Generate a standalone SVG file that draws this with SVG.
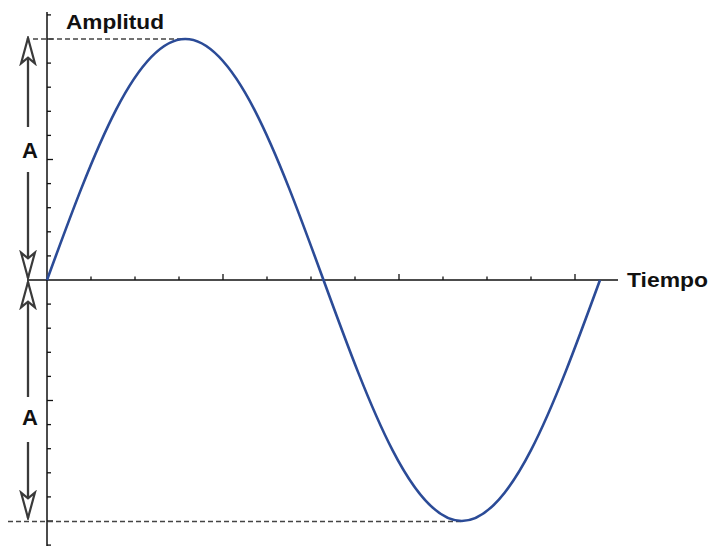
<svg xmlns="http://www.w3.org/2000/svg" width="713" height="546" viewBox="0 0 713 546">
<style>
.axis{stroke:#111;stroke-width:1.5;fill:none}
.tick{stroke:#111;stroke-width:1.3}
.dash{stroke:#444;stroke-width:1.5;stroke-dasharray:5 3;fill:none}
.arr{stroke:#3a3a3a;stroke-width:2.3;fill:none;marker-end:url(#head)}
.lbl{font-family:"Liberation Sans",Arial,sans-serif;font-weight:bold;font-size:21px;fill:#111}
.wave{stroke:#2b4b97;stroke-width:2.6;fill:none}
</style>
<defs>
<marker id="head" markerUnits="userSpaceOnUse" markerWidth="30" markerHeight="20" viewBox="-24 -8 26 16" refX="0" refY="0" orient="auto">
<path d="M0,0 L-22,-6 L-17,0 L-22,6 Z" fill="#fff" stroke="#3a3a3a" stroke-width="1.9" stroke-linejoin="miter"/>
</marker>
</defs>
<rect width="713" height="546" fill="#fff"/>
<g id="axes">
<line class="axis" x1="47" y1="12" x2="47" y2="546"/>
<line class="axis" x1="27" y1="280" x2="618" y2="280"/>
<g id="yticks" class="tick">
<line x1="47" y1="14.9" x2="51" y2="14.9"/>
<line x1="47" y1="39" x2="53" y2="39"/>
<line x1="47" y1="63.1" x2="51" y2="63.1"/>
<line x1="47" y1="87.2" x2="51" y2="87.2"/>
<line x1="47" y1="111.3" x2="51" y2="111.3"/>
<line x1="47" y1="135.4" x2="51" y2="135.4"/>
<line x1="47" y1="159.5" x2="53" y2="159.5"/>
<line x1="47" y1="183.6" x2="51" y2="183.6"/>
<line x1="47" y1="207.7" x2="51" y2="207.7"/>
<line x1="47" y1="231.8" x2="51" y2="231.8"/>
<line x1="47" y1="255.9" x2="51" y2="255.9"/>
<line x1="47" y1="304.1" x2="51" y2="304.1"/>
<line x1="47" y1="328.2" x2="51" y2="328.2"/>
<line x1="47" y1="352.3" x2="51" y2="352.3"/>
<line x1="47" y1="376.4" x2="51" y2="376.4"/>
<line x1="47" y1="400.5" x2="53" y2="400.5"/>
<line x1="47" y1="424.6" x2="51" y2="424.6"/>
<line x1="47" y1="448.7" x2="51" y2="448.7"/>
<line x1="47" y1="472.8" x2="51" y2="472.8"/>
<line x1="47" y1="496.9" x2="51" y2="496.9"/>
<line x1="47" y1="521" x2="53" y2="521"/>
<line x1="47" y1="545.1" x2="51" y2="545.1"/>
</g>
<g id="xticks" class="tick">
<line x1="91" y1="280" x2="91" y2="276.5"/>
<line x1="135" y1="280" x2="135" y2="276.5"/>
<line x1="179" y1="280" x2="179" y2="276.5"/>
<line x1="223" y1="280" x2="223" y2="274"/>
<line x1="267" y1="280" x2="267" y2="276.5"/>
<line x1="311" y1="280" x2="311" y2="276.5"/>
<line x1="355" y1="280" x2="355" y2="276.5"/>
<line x1="399" y1="280" x2="399" y2="274"/>
<line x1="443" y1="280" x2="443" y2="276.5"/>
<line x1="487" y1="280" x2="487" y2="276.5"/>
<line x1="531" y1="280" x2="531" y2="276.5"/>
<line x1="575" y1="280" x2="575" y2="274"/>
</g>
</g>
<g id="guides">
<line class="dash" x1="33" y1="39" x2="185" y2="39"/>
<line class="dash" x1="8" y1="521.5" x2="462" y2="521.5"/>
</g>
<g id="connectors">
<line class="arr" x1="28" y1="127" x2="28" y2="38"/>
<line class="arr" x1="28" y1="172" x2="28" y2="278"/>
<line class="arr" x1="28" y1="397" x2="28" y2="282"/>
<line class="arr" x1="28" y1="442" x2="28" y2="518"/>
</g>
<g id="wave">
<path class="wave" d="M47,280 C70.04,216.91 93.09,154.2 116.13,109.59 C139.17,64.98 162.21,39 185.25,39 C208.29,39 231.34,64.98 254.38,109.59 C277.42,154.2 300.46,216.91 323.5,280 C346.54,343.09 369.59,405.8 392.63,450.41 C415.67,495.02 438.71,521 461.75,521 C484.79,521 507.84,495.02 530.88,450.41 C553.92,405.8 576.96,343.09 600,280"/>
</g>
<g id="label-amplitud"><text class="lbl" x="66" y="29" textLength="98" lengthAdjust="spacingAndGlyphs">Amplitud</text></g>
<g id="label-tiempo"><text class="lbl" x="627" y="287" textLength="81" lengthAdjust="spacingAndGlyphs">Tiempo</text></g>
<g id="label-a-top"><text class="lbl" x="30" y="158" text-anchor="middle" style="font-size:22px">A</text></g>
<g id="label-a-bottom"><text class="lbl" x="30" y="425" text-anchor="middle" style="font-size:22px">A</text></g>
</svg>
